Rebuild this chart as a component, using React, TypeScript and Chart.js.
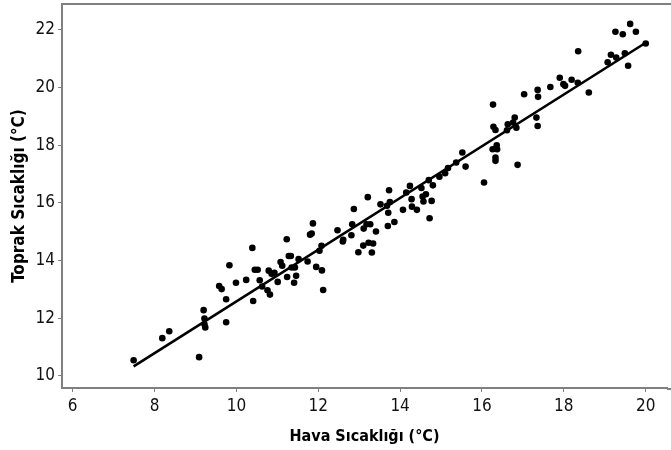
import React, { useEffect, useRef } from "react";
import { Chart, registerables } from "chart.js";

Chart.register(...registerables);

const airTemp = [
  7.49, 8.19, 8.36, 9.09, 9.2, 9.22, 9.22, 9.24, 9.75, 9.75, 9.58, 9.64, 9.83, 9.99, 10.24, 10.39,
  10.41, 10.45, 10.52, 10.57, 10.63, 10.76, 10.82, 10.79, 10.86, 10.93, 11.01, 11.08, 11.12, 11.23,
  11.24, 11.28, 11.33, 11.35, 11.41, 11.46, 11.43, 11.52, 11.74, 11.8, 11.84, 11.87, 11.95, 12.03,
  12.08, 12.09, 12.12, 12.47, 12.6, 12.61, 12.81, 12.83, 12.87, 12.98, 13.1, 13.11, 13.18, 13.21,
  13.23, 13.27, 13.31, 13.34, 13.41, 13.52, 13.68, 13.7, 13.73, 13.71, 13.75, 13.86, 14.07, 14.15,
  14.24, 14.28, 14.29, 14.41, 14.52, 14.55, 14.57, 14.63, 14.7, 14.72, 14.77, 14.8, 14.96, 15.1,
  15.17, 15.37, 15.52, 15.6, 16.05, 16.27, 16.28, 16.33, 16.26, 16.36, 16.33, 16.33, 16.37, 16.61,
  16.63, 16.76, 16.8, 16.84, 16.87, 17.03, 17.33, 17.36, 17.37, 17.36, 17.67, 17.9, 17.99, 18.03,
  18.19, 18.34, 18.35, 18.61, 19.07, 19.15, 19.28, 19.26, 19.44, 19.49, 19.62, 19.57, 19.76, 20.0,
];

const soilTemp = [
  10.54, 11.31, 11.55, 10.65, 12.28, 11.99, 11.79, 11.68, 11.86, 12.66, 13.12, 13.01, 13.84, 13.23,
  13.33, 14.44, 12.6, 13.68, 13.68, 13.32, 13.1, 12.97, 12.82, 13.65, 13.54, 13.58, 13.26, 13.95,
  13.82, 14.74, 13.43, 14.16, 14.16, 13.76, 13.23, 13.47, 13.76, 14.05, 13.97, 14.9, 14.94, 15.29,
  13.78, 14.34, 14.51, 13.66, 12.98, 15.05, 14.66, 14.72, 14.88, 15.26, 15.79, 14.29, 14.52, 15.11,
  15.26, 16.2, 14.62, 15.26, 14.28, 14.59, 15.01, 15.95, 15.9, 15.2, 16.44, 15.66, 16.03, 15.34,
  15.76, 16.36, 16.59, 16.13, 15.87, 15.76, 16.52, 16.22, 16.05, 16.3, 16.79, 15.47, 16.07, 16.61,
  16.91, 17.03, 17.21, 17.4, 17.75, 17.26, 16.71, 19.41, 18.64, 18.53, 17.86, 18.0, 17.57, 17.46,
  17.86, 18.52, 18.73, 18.79, 18.96, 18.61, 17.32, 19.77, 18.96, 19.92, 19.68, 18.67, 20.02, 20.34,
  20.12, 20.06, 20.27, 20.17, 21.26, 19.83, 20.88, 21.14, 21.04, 21.94, 21.85, 21.19, 22.21, 20.76,
  21.94, 21.53,
];

const xTicks = [6, 8, 10, 12, 14, 16, 18, 20];
const yTicks = [10, 12, 14, 16, 18, 20, 22];
const xTitle = "Hava Sıcaklığı (°C)";
const yTitle = "Toprak Sıcaklığı (°C)";

const FONT = "'DejaVu Sans Condensed', 'Liberation Sans Narrow', sans-serif";
const AXIS_GRAY = "#808080";

function leastSquares(xs: number[], ys: number[]) {
  const n = xs.length;
  let sx = 0, sy = 0, sxx = 0, sxy = 0;
  for (let i = 0; i < n; i++) {
    sx += xs[i];
    sy += ys[i];
    sxx += xs[i] * xs[i];
    sxy += xs[i] * ys[i];
  }
  const b = (n * sxy - sx * sy) / (n * sxx - sx * sx);
  const a = (sy - b * sx) / n;
  return { a, b };
}

const frameLines = {
  id: "frameLines",
  afterDraw(chart: any) {
    const { ctx, chartArea } = chart;
    ctx.save();
    ctx.strokeStyle = AXIS_GRAY;
    ctx.lineWidth = 2;
    ctx.beginPath();
    ctx.moveTo(chartArea.left - 1, chartArea.top);
    ctx.lineTo(chart.width, chartArea.top);
    ctx.moveTo(chartArea.right, chartArea.bottom + 1);
    ctx.lineTo(chart.width, chartArea.bottom + 1);
    ctx.stroke();
    ctx.restore();
  },
};

export default function App() {
  const ref = useRef<HTMLCanvasElement>(null);

  useEffect(() => {
    if (!ref.current) return;
    const { a, b } = leastSquares(airTemp, soilTemp);
    const xmin = Math.min(...airTemp);
    const xmax = Math.max(...airTemp);
    const fitLine = [
      { x: xmin, y: a + b * xmin },
      { x: xmax, y: a + b * xmax },
    ];
    const points = airTemp.map((x, i) => ({ x, y: soilTemp[i] }));

    const chart = new Chart(ref.current, {
      type: "scatter",
      data: {
        datasets: [
          {
            type: "line",
            data: fitLine,
            borderColor: "#000",
            borderWidth: 2.6,
            pointRadius: 0,
            fill: false,
            order: 0,
          } as any,
          {
            data: points,
            backgroundColor: "#000",
            borderWidth: 0,
            pointRadius: 3.3,
            order: 1,
          },
        ],
      },
      options: {
        animation: false,
        responsive: false,
        layout: { padding: { top: 4, right: 0, left: 0, bottom: 0 } },
        plugins: { legend: { display: false }, tooltip: { enabled: false } },
        scales: {
          x: {
            type: "linear",
            min: 5.74,
            max: 20.52,
            afterBuildTicks: (s: any) => {
              s.ticks = xTicks.map((v) => ({ value: v }));
            },
            afterFit: (s: any) => {
              s.height = 62;
              s.paddingLeft = 0;
              s.paddingRight = 0;
            },
            grid: {
              display: true,
              drawOnChartArea: false,
              drawTicks: true,
              tickLength: 4,
              color: AXIS_GRAY,
              lineWidth: 1,
            },
            border: { display: true, color: AXIS_GRAY, width: 2 },
            ticks: {
              color: "#111",
              font: { family: FONT, size: 17 },
              padding: 4,
              maxRotation: 0,
              autoSkip: false,
            },
            title: {
              display: true,
              text: xTitle,
              color: "#000",
              font: { family: FONT, size: 16, weight: "bold" },
              padding: { top: 0, bottom: 4 },
            },
          },
          y: {
            type: "linear",
            min: 9.58,
            max: 22.9,
            afterBuildTicks: (s: any) => {
              s.ticks = yTicks.map((v) => ({ value: v }));
            },
            afterFit: (s: any) => {
              s.width = 62;
              s.paddingTop = 0;
              s.paddingBottom = 0;
            },
            grid: {
              display: true,
              drawOnChartArea: false,
              drawTicks: true,
              tickLength: 4,
              color: AXIS_GRAY,
              lineWidth: 1,
            },
            border: { display: true, color: AXIS_GRAY, width: 2 },
            ticks: {
              color: "#111",
              font: { family: FONT, size: 17 },
              padding: 3,
              autoSkip: false,
            },
            title: {
              display: true,
              text: yTitle,
              color: "#000",
              font: { family: FONT, size: 17, weight: "bold" },
              padding: { top: 9, bottom: 0 },
            },
          },
        },
      },
      plugins: [frameLines],
    });
    return () => chart.destroy();
  }, []);

  return (
    <div style={{ position: "absolute", left: 0, top: 0, width: 671, height: 450, background: "#fff" }}>
      <canvas ref={ref} width={671} height={450} />
    </div>
  );
}
